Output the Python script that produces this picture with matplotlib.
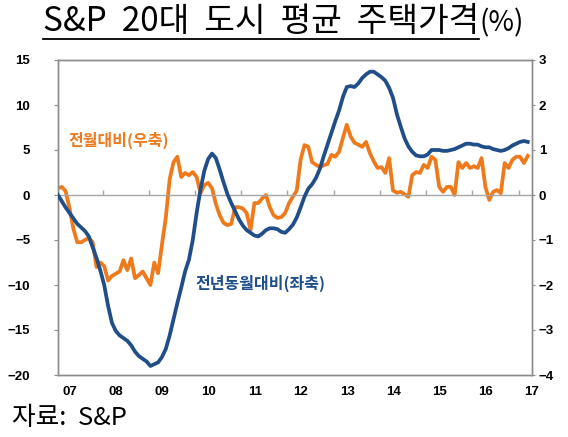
import matplotlib
matplotlib.use("Agg")
import matplotlib.pyplot as plt
from matplotlib.lines import Line2D

plt.rcParams['font.family'] = ['Noto Sans CJK KR', 'DejaVu Sans']
plt.rcParams['axes.unicode_minus'] = True

# Monthly data, Jan 2007 .. Mar 2017
yoy = [0.0, -0.7, -1.4, -2.0, -2.6, -3.2, -3.6, -4.0, -4.6, -5.8, -7.0, -8.4,
       -10.0, -12.3, -14.2, -15.1, -15.6, -15.9, -16.2, -16.7, -17.4, -17.9, -18.2, -18.5,
       -19.0, -18.8, -18.6, -18.0, -17.1, -15.6, -13.8, -12.0, -10.3, -8.5, -7.2, -5.0,
       -2.0, 0.6, 2.7, 4.0, 4.6, 4.1, 2.8, 1.4, 0.1, -0.9, -1.8, -2.7,
       -3.4, -3.9, -4.2, -4.5, -4.6, -4.3, -3.9, -3.7, -3.7, -3.8, -4.1, -4.2,
       -3.8, -3.3, -2.5, -1.4, -0.2, 0.7, 1.2, 1.9, 2.9, 4.3, 5.6, 6.9,
       8.2, 9.4, 10.9, 12.0, 12.1, 12.0, 12.4, 13.0, 13.4, 13.7, 13.7, 13.4,
       13.1, 12.7, 11.9, 10.8, 9.0, 7.6, 6.3, 5.4, 4.8, 4.4, 4.3, 4.3,
       4.5, 5.0, 5.0, 5.0, 4.9, 4.9, 5.0, 5.1, 5.3, 5.5, 5.7, 5.7,
       5.6, 5.6, 5.4, 5.3, 5.3, 5.1, 5.0, 4.9, 5.0, 5.2, 5.5, 5.7,
       5.9, 6.0, 5.9]

mom = [0.15, 0.18, 0.08, -0.30, -0.75, -1.05, -1.05, -1.00, -0.95, -1.05, -1.60, -1.50,
       -1.58, -1.90, -1.80, -1.75, -1.70, -1.45, -1.67, -1.41, -1.85, -1.78, -1.70, -1.85,
       -2.00, -1.50, -1.74, -1.10, -0.50, 0.35, 0.73, 0.85, 0.40, 0.49, 0.44, 0.51,
       0.40, 0.04, 0.22, 0.27, 0.15, -0.20, -0.45, -0.62, -0.67, -0.64, -0.27, -0.27,
       -0.30, -0.40, -0.78, -0.18, -0.18, -0.08, 0.00, -0.27, -0.45, -0.51, -0.49, -0.40,
       -0.18, -0.04, 0.10, 0.78, 1.11, 1.07, 0.73, 0.67, 0.62, 0.66, 0.69, 0.89,
       0.85, 0.96, 1.27, 1.56, 1.30, 1.16, 1.12, 1.07, 1.18, 0.93, 0.75, 0.60,
       0.62, 0.49, 0.82, 0.10, 0.05, 0.07, 0.02, -0.04, 0.44, 0.51, 0.49, 0.67,
       0.60, 0.85, 0.78, 0.18, 0.07, 0.18, 0.18, 0.00, 0.73, 0.60, 0.71, 0.60,
       0.64, 0.60, 0.82, 0.18, -0.11, 0.07, 0.11, 0.04, 0.71, 0.60, 0.78, 0.85,
       0.85, 0.71, 0.87]

year_labels = ['07', '08', '09', '10', '11', '12', '13', '14', '15', '16', '17']
left_ticks = [15, 10, 5, 0, -5, -10, -15, -20]
right_ticks = [3, 2, 1, 0, -1, -2, -3, -4]

title = 'S&P  20대  도시  평균  주택가격'
source = '자료:  S&P'

BLUE = '#1F4E89'
ORANGE = '#EE7A1C'
GRAY = '#8C8C8C'

n = len(yoy)
x = list(range(n))

fig = plt.figure(figsize=(5.68, 4.37), dpi=100)
ax = fig.add_axes([58/568, 1-375/437, (532-58)/568, (375-60)/437])
ax2 = ax.twinx()

ax.set_xlim(0, n - 1)
ax.set_ylim(-20, 15)
ax2.set_ylim(-4, 3)

ax.axhline(0, color='#A6A6A6', lw=1.0, zorder=1)
tick_pos = [11.6 + 12 * k for k in range(10)]
ax.vlines(tick_pos, 0, 0.6, color='#A6A6A6', lw=1.0, zorder=1)

ax.plot(x, yoy, color=BLUE, lw=2.7, zorder=3, solid_joinstyle='round')
ax2.plot(x, mom, color=ORANGE, lw=2.7, zorder=3, solid_joinstyle='round')
ax.set_zorder(ax2.get_zorder() + 1)
ax.patch.set_visible(False)

ax.set_xticks([3.1 + 12 * k for k in range(len(year_labels))])
ax.set_xticklabels(year_labels)
ax.tick_params(axis='x', length=0, pad=8)
ax.set_yticks(left_ticks)
ax.set_yticklabels([f'{v:d}'.replace('-', '\u2212') for v in left_ticks])
ax.tick_params(axis='y', length=3, color=GRAY, pad=17)
ax2.set_yticks(right_ticks)
ax2.set_yticklabels([f'{v:d}'.replace('-', '\u2212') for v in right_ticks])
ax2.tick_params(axis='y', length=2, color=GRAY, pad=3)

for a in (ax, ax2):
    for lab in a.get_xticklabels() + a.get_yticklabels():
        lab.set_fontfamily(['Liberation Sans', 'DejaVu Sans'])
        lab.set_fontweight('bold')
        lab.set_fontsize(9.5)
    for s in a.spines.values():
        s.set_color(GRAY)
        s.set_linewidth(1.0)

ax.text(2.6, 6.1, '전월대비(우축)', color=ORANGE, fontsize=11.5,
        fontweight='bold', va='center', ha='left', zorder=5)
ax.text(35.7, -9.8, '전년동월대비(좌축)', color=BLUE, fontsize=11.5,
        fontweight='bold', va='center', ha='left', zorder=5)

t = fig.text(43/568, 1-22/437, title, fontsize=24, ha='left', va='center')
fig.canvas.draw()
bb = t.get_window_extent()
fig.text(bb.x1 / fig.bbox.width, 1-23/437, '(%)', fontsize=20, ha='left', va='center')
y_ul = (bb.y0 + 1) / fig.bbox.height
fig.add_artist(Line2D([bb.x0 / fig.bbox.width, bb.x1 / fig.bbox.width], [y_ul, y_ul],
                      color='black', lw=1.3, transform=fig.transFigure))

fig.text(12/568, 1-418/437, source, fontsize=18.5, ha='left', va='center')

fig.savefig('out.png', dpi=100)
